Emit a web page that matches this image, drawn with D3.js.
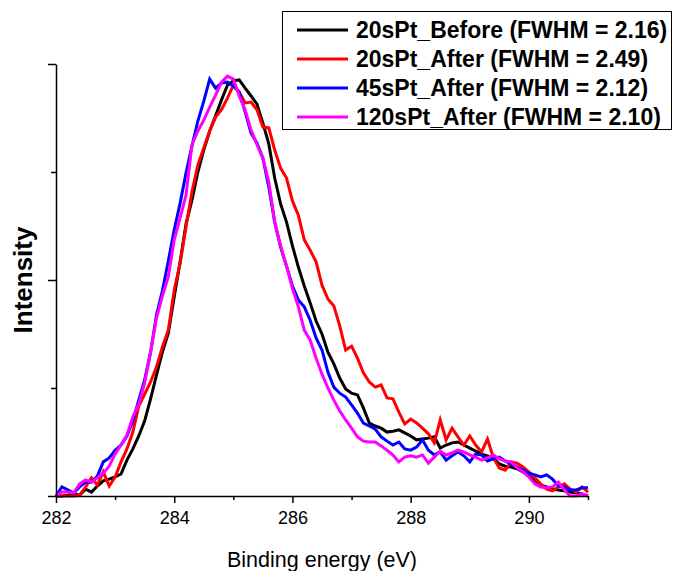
<!DOCTYPE html>
<html>
<head>
<meta charset="utf-8">
<script src="https://cdn.jsdelivr.net/npm/d3@7"></script>
<style>
  body { margin: 0; background: #fff; }
  .chart text { font-family: "Liberation Sans", Arial, sans-serif; }
</style>
</head>
<body>
<div class="chart"></div>
<script>
// energy grid: 282.0 .. 291.0 eV, 0.1 eV steps
var eStart = 282.0;
var eStep = 0.1;

var seriesNames = ["20sPt_Before", "20sPt_After", "45sPt_After", "120sPt_After"];
var fwhmValues = ["2.16", "2.49", "2.12", "2.10"];
var seriesColors = ["#000000", "#ff0000", "#0000ff", "#ff00ff"];

var before20 = [
    0, 0, 0.002, 0.005, 0.002, 0.016, 0.009, 0.023, 0.035, 0.039,
    0.044, 0.051, 0.083, 0.109, 0.139, 0.174, 0.225, 0.280, 0.333, 0.377,
    0.461, 0.542, 0.630, 0.685, 0.750, 0.801, 0.845, 0.880, 0.917, 0.951,
    0.961, 0.963, 0.944, 0.926, 0.907, 0.863, 0.815, 0.736, 0.676, 0.634,
    0.579, 0.530, 0.486, 0.447, 0.405, 0.375, 0.333, 0.306, 0.273, 0.248,
    0.238, 0.234, 0.204, 0.169, 0.162, 0.157, 0.148, 0.150, 0.153, 0.146,
    0.139, 0.130, 0.132, 0.134, 0.137, 0.111, 0.118, 0.123, 0.125, 0.118,
    0.111, 0.104, 0.097, 0.093, 0.088, 0.074, 0.069, 0.067, 0.063, 0.056,
    0.046, 0.035, 0.025, 0.021, 0.016, 0.014, 0.012, 0.009, 0.007, 0.005,
    0
];
var after20 = [
    0, 0, 0, 0, 0.002, 0.021, 0.042, 0.025, 0.056, 0.023,
    0.044, 0.079, 0.109, 0.148, 0.208, 0.236, 0.264, 0.299, 0.345, 0.384,
    0.477, 0.539, 0.623, 0.704, 0.766, 0.806, 0.845, 0.877, 0.894, 0.921,
    0.951, 0.935, 0.910, 0.912, 0.894, 0.854, 0.852, 0.801, 0.759, 0.736,
    0.683, 0.650, 0.593, 0.569, 0.542, 0.488, 0.456, 0.440, 0.394, 0.338,
    0.347, 0.319, 0.285, 0.264, 0.252, 0.257, 0.227, 0.225, 0.194, 0.167,
    0.178, 0.169, 0.157, 0.144, 0.123, 0.176, 0.130, 0.157, 0.137, 0.118,
    0.139, 0.118, 0.102, 0.132, 0.088, 0.065, 0.060, 0.079, 0.076, 0.067,
    0.056, 0.042, 0.028, 0.016, 0.012, 0.021, 0.028, 0.016, 0.009, 0.021,
    0.009
];
var after45 = [
    0, 0.021, 0.014, 0.007, 0.021, 0.032, 0.032, 0.046, 0.079, 0.088,
    0.106, 0.118, 0.139, 0.174, 0.222, 0.269, 0.333, 0.419, 0.475, 0.544,
    0.616, 0.678, 0.748, 0.810, 0.868, 0.914, 0.965, 0.944, 0.956, 0.958,
    0.949, 0.935, 0.889, 0.840, 0.817, 0.782, 0.715, 0.634, 0.576, 0.532,
    0.486, 0.454, 0.438, 0.407, 0.366, 0.338, 0.287, 0.252, 0.238, 0.229,
    0.211, 0.192, 0.169, 0.162, 0.155, 0.137, 0.127, 0.118, 0.125, 0.109,
    0.106, 0.113, 0.130, 0.106, 0.095, 0.102, 0.083, 0.093, 0.102, 0.093,
    0.079, 0.097, 0.095, 0.081, 0.086, 0.090, 0.081, 0.074, 0.067, 0.060,
    0.053, 0.049, 0.044, 0.049, 0.039, 0.023, 0.021, 0.014, 0.014, 0.019,
    0.019
];
var after120 = [
    0, 0.009, 0.009, 0.007, 0.028, 0.037, 0.032, 0.042, 0.053, 0.069,
    0.097, 0.118, 0.141, 0.183, 0.213, 0.262, 0.333, 0.412, 0.463, 0.507,
    0.593, 0.644, 0.697, 0.813, 0.845, 0.870, 0.900, 0.928, 0.958, 0.972,
    0.965, 0.926, 0.894, 0.847, 0.813, 0.782, 0.727, 0.634, 0.579, 0.532,
    0.481, 0.438, 0.384, 0.361, 0.319, 0.282, 0.250, 0.222, 0.197, 0.176,
    0.157, 0.137, 0.127, 0.125, 0.125, 0.116, 0.106, 0.095, 0.079, 0.090,
    0.093, 0.090, 0.095, 0.076, 0.090, 0.104, 0.095, 0.100, 0.106, 0.102,
    0.095, 0.090, 0.083, 0.088, 0.095, 0.086, 0.081, 0.079, 0.065, 0.056,
    0.044, 0.028, 0.021, 0.019, 0.021, 0.032, 0.014, 0, 0, 0.005,
    0
];

var xMajorTicks = [282, 284, 286, 288, 290];
var xMinorTicks = [283, 285, 287, 289, 291];
var yMajorTicks = [0, 0.5, 1];
var yMinorTicks = [0.25, 0.75];

function init() {
    var w = 676;
    var h = 571;
    var left = 56, right = 588, top = 64, bottom = 496;

    var svg = d3.select(".chart")
        .append("svg")
        .attr("width", w)
        .attr("height", h);

    var xScale = d3.scaleLinear().domain([282, 291]).range([left, right]);
    var yScale = d3.scaleLinear().domain([0, 1]).range([bottom, top]);

    var allSeries = [before20, after20, after45, after120];

    // lines
    var line = d3.line()
        .x(function(d, i) { return xScale(eStart + i * eStep); })
        .y(function(d) { return yScale(d); });

    allSeries.forEach(function(vals, k) {
        svg.append("path")
            .datum(vals)
            .attr("d", line)
            .attr("fill", "none")
            .attr("stroke", seriesColors[k])
            .attr("stroke-width", 3);
    });

    // x axis
    var xAxis = d3.axisBottom(xScale)
        .tickValues(xMajorTicks)
        .tickSize(7)
        .tickSizeOuter(0)
        .tickPadding(8)
        .tickFormat(d3.format("d"));

    var gx = svg.append("g")
        .attr("transform", "translate(0," + bottom + ")")
        .call(xAxis);
    gx.selectAll("text").style("font-size", "18px").attr("fill", "#000");

    svg.append("g")
        .attr("transform", "translate(0," + bottom + ")")
        .call(d3.axisBottom(xScale).tickValues(xMinorTicks).tickSize(4).tickSizeOuter(0).tickFormat(""))
        .select(".domain").remove();

    // y axis
    var gy = svg.append("g")
        .attr("transform", "translate(" + left + ",0)")
        .call(d3.axisLeft(yScale).tickValues(yMajorTicks).tickSize(8).tickSizeOuter(0).tickFormat(""));

    svg.append("g")
        .attr("transform", "translate(" + left + ",0)")
        .call(d3.axisLeft(yScale).tickValues(yMinorTicks).tickSize(5).tickSizeOuter(0).tickFormat(""))
        .select(".domain").remove();

    svg.selectAll(".domain, .tick line")
        .attr("stroke", "#000")
        .attr("stroke-width", 1.5);

    // axis titles
    svg.append("text")
        .attr("x", (left + right) / 2)
        .attr("y", 567)
        .attr("text-anchor", "middle")
        .style("font-size", "21.5px")
        .text("Binding energy (eV)");

    svg.append("text")
        .attr("transform", "translate(32," + ((top + bottom) / 2) + ") rotate(-90)")
        .attr("text-anchor", "middle")
        .style("font-size", "26px")
        .style("font-weight", "bold")
        .text("Intensity");

    // legend
    var legend = svg.append("g");
    legend.append("rect")
        .attr("x", 282.5)
        .attr("y", 11.5)
        .attr("width", 389)
        .attr("height", 118)
        .attr("fill", "#fff")
        .attr("stroke", "#000")
        .attr("stroke-width", 1);

    seriesNames.forEach(function(name, k) {
        var yRow = 30 + k * 29;
        legend.append("line")
            .attr("x1", 297).attr("x2", 348)
            .attr("y1", yRow).attr("y2", yRow)
            .attr("stroke", seriesColors[k])
            .attr("stroke-width", 3);
        legend.append("text")
            .attr("x", 356)
            .attr("y", yRow + 8)
            .style("font-size", "23px")
            .style("font-weight", "bold")
            .text(name + " (FWHM = " + fwhmValues[k] + ")");
    });
}

window.onload = init;
</script>
</body>
</html>
